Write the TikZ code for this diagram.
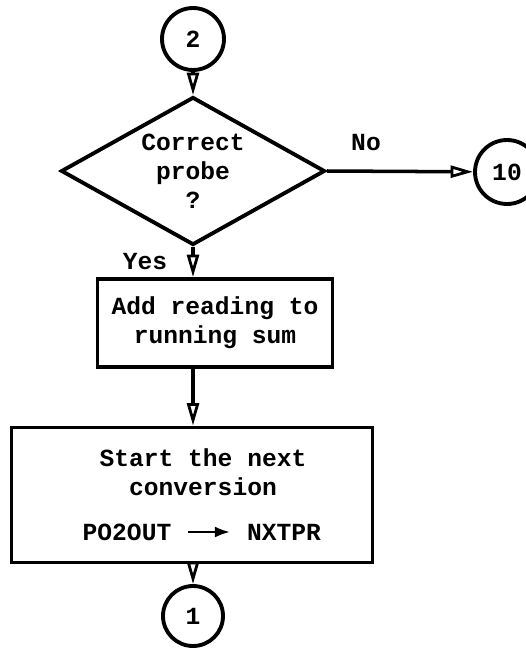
\documentclass[tikz,border=0pt]{standalone}
\usepackage{fontspec}
\setmonofont{Liberation Mono}
\usetikzlibrary{shapes.geometric}
\usetikzlibrary{arrows.meta}
\def\flowfont{\ttfamily\bfseries\fontsize{14}{16.5}\selectfont}
\tikzstyle{conn} = [circle, draw, line width=2.2pt, inner sep=0pt, font=\flowfont]
\tikzstyle{decision} = [diamond, draw, aspect=1.78, inner sep=0pt, line width=2.2pt, minimum width=5.28cm, minimum height=2.96cm, align=center, font=\flowfont]
\tikzstyle{procbox} = [rectangle, draw, line width=2.2pt, inner sep=0pt, align=center, font=\flowfont]
\tikzstyle{flowarrow} = [line width=2pt, -{Triangle[open,length=0.45cm,width=0.24cm,line width=1.6pt]}]
\tikzstyle{tag} = [font=\flowfont, inner sep=1pt, align=center]

\begin{document}
\begin{tikzpicture}[x=0.02cm,y=-0.02cm]

\useasboundingbox (0,0) rectangle (526,652);

\node[conn, minimum size=1.24cm] (c2) at (193,39) {2};
\node[decision] (dec) at (193,171) {Correct\\probe\\?};
\node[conn, minimum size=1.28cm] (c10) at (507,172) {10};
\node[procbox, minimum width=4.7cm, minimum height=1.76cm] (add) at (215,323) {Add reading to\\running sum};
\node[procbox, minimum width=7.22cm, minimum height=2.7cm] (start) at (192,495) {};
\node[tag] (next) at (203,472) {Start the next\\conversion};
\node[tag] (src) at (127,532) {PO2OUT};
\node[tag] (dst) at (284,532) {NXTPR};
\node[conn, minimum size=1.2cm] (c1) at (193,616) {1};

\node[tag] at (145,262) {Yes};
\node[tag] at (366,143) {No};

\draw[flowarrow] (c2) -- (dec.north);
\draw[flowarrow] (dec.east) -- (c10);
\draw[flowarrow] (dec.south) -- (dec.south |- add.north);
\draw[flowarrow] (dec.south |- add.south) -- (dec.south |- start.north);
\draw[flowarrow] (c1 |- start.south) -- (c1);
\draw[line width=1.5pt, -{Latex[length=0.3cm,width=0.22cm]}, shorten <=0.3cm, shorten >=0.3cm] (src) -- (dst);

\end{tikzpicture}
\end{document}
